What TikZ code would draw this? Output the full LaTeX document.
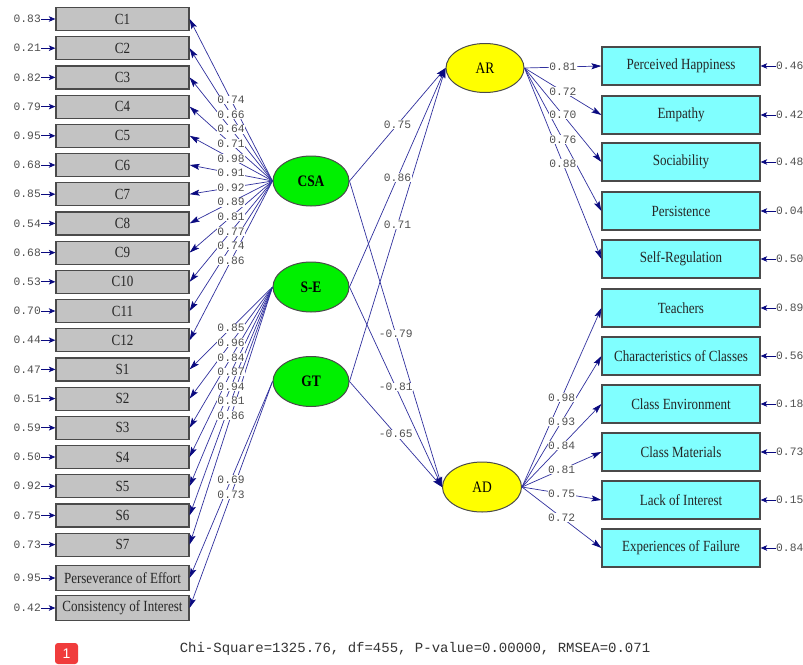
\documentclass[tikz,border=0pt]{standalone}
\usepackage{fontspec}
\setmainfont{Liberation Serif}
\newfontfamily\boxfont[FakeStretch=0.84]{Liberation Serif}
\newfontfamily\numfont{Liberation Mono}
\newfontfamily\badgefont{Liberation Sans}
\usetikzlibrary{arrows.meta,calc,shapes.geometric}
\definecolor{pathblue}{HTML}{30309E}
\definecolor{tipblue}{HTML}{0A0A80}
\definecolor{boxgray}{HTML}{C3C3C3}
\definecolor{cyanbox}{HTML}{80FFFF}
\definecolor{numgray}{HTML}{505050}
\definecolor{borderg}{HTML}{4A4A4A}
\definecolor{latgreen}{HTML}{00F000}
\definecolor{latyellow}{HTML}{FFFF00}
\definecolor{badgered}{HTML}{F03C3C}
\tikzset{
  lbox/.style={draw=borderg, line width=1.2pt, fill=boxgray, minimum width=133pt,
    minimum height=23pt, inner sep=0pt, text=black!85, font=\boxfont\fontsize{15.5}{16}\selectfont},
  rbox/.style={draw=borderg, line width=1.2pt, fill=cyanbox, minimum width=158pt,
    minimum height=38pt, inner sep=0pt, text=black!85, font=\boxfont\fontsize{15.5}{16}\selectfont},
  latg/.style={ellipse, draw=borderg, line width=1pt, fill=latgreen, minimum width=76pt,
    minimum height=50pt, inner sep=0pt, font=\boxfont\bfseries\fontsize{16}{16}\selectfont},
  laty/.style={ellipse, draw=borderg, line width=1pt, fill=latyellow, minimum width=78pt,
    minimum height=49pt, inner sep=0pt, font=\boxfont\fontsize{16}{16}\selectfont},
  pathline/.style={draw=pathblue, line width=0.7pt,
    -{Stealth[length=10pt,width=6pt,inset=2pt,color=tipblue]}},
  errarrow/.style={draw=tipblue, line width=1pt,
    -{Stealth[length=6.5pt,width=5.5pt,inset=1.5pt]}},
  lab/.style={fill=white, inner sep=0.6pt, text=numgray,
    font=\numfont\fontsize{11.3}{11.5}\selectfont},
  errlab/.style={inner sep=0pt, text=numgray, font=\numfont\fontsize{11.3}{11.5}\selectfont}
}
\begin{document}
\begin{tikzpicture}[x=1pt,y=-1pt]
\useasboundingbox[fill=white] (0,0) rectangle (803,664);

% left observed variables
\foreach \t [count=\i] in {C1,C2,C3,C4,C5,C6,C7,C8,C9,C10,C11,C12,S1,S2,S3,S4,S5,S6,S7}{
  \node[lbox] (l\i) at (122.5,{19+29.2*(\i-1)}) {\t};
}
\node[lbox, minimum height=25pt] (l20) at (122.5,578) {Perseverance of Effort};
\node[lbox, minimum height=25pt] (l21) at (122.5,608) {Consistency of Interest};

% left errors
\foreach \v [count=\i] in {0.83,0.21,0.82,0.79,0.95,0.68,0.85,0.54,0.68,0.53,0.70,0.44,0.47,0.51,0.59,0.50,0.92,0.75,0.73,0.95,0.42}{
  \node[errlab, anchor=east] (le\i) at (41,{0}|-l\i.west) {\v};
  \draw[errarrow] (le\i.east) -- (l\i.west);
}

% latent variables
\node[latg] (CSA) at (311,181) {CSA};
\node[latg] (SE) at (311,287) {S-E};
\node[latg] (GT) at (311,381.5) {GT};
\node[laty] (AR) at (485,68) {AR};
\node[laty, minimum width=79pt, minimum height=50pt] (AD) at (482,487) {AD};

% right observed variables
\foreach \t/\y [count=\i] in {Perceived Happiness/66, Empathy/115, Sociability/162, Persistence/211,
  Self-Regulation/259, Teachers/308, Characteristics of Classes/356, Class Environment/404,
  Class Materials/452, Lack of Interest/500, Experiences of Failure/548}{
  \node[rbox] (r\i) at (681,\y) {\t};
}
\foreach \v [count=\i] in {0.46,0.42,0.48,0.04,0.50,0.89,0.56,0.18,0.73,0.15,0.84}{
  \node[errlab, anchor=west] (re\i) at (776,{0}|-r\i.east) {\v};
  \draw[errarrow] (re\i.west) -- (r\i.east);
}

% loadings paths
\foreach \i in {1,...,12}{ \draw[pathline] (CSA.west) -- (l\i.east); }
\foreach \i in {13,...,19}{ \draw[pathline] (SE.west) -- (l\i.east); }
\foreach \i in {20,21}{ \draw[pathline] (GT.west) -- (l\i.east); }
\foreach \i in {1,...,5}{ \draw[pathline] (AR.east) -- (r\i.west); }
\foreach \i in {6,...,11}{ \draw[pathline] (AD.east) -- (r\i.west); }
% structural paths
\foreach \s in {CSA,SE,GT}{
  \draw[pathline] (\s.east) -- (AR.west);
  \draw[pathline] (\s.east) -- (AD.west);
}

% labels
\foreach \v [count=\i] in {0.74,0.66,0.64,0.71,0.98,0.91,0.92,0.89,0.81,0.77,0.74,0.86}{
  \node[lab] at ($(CSA.west)!0.5!(l\i.east)$) {\v};
}
\foreach \v [count=\k] in {0.85,0.96,0.84,0.87,0.94,0.81,0.86}{
  \pgfmathtruncatemacro{\i}{\k+12}
  \node[lab] at ($(SE.west)!0.5!(l\i.east)$) {\v};
}
\node[lab] at ($(GT.west)!0.5!(l20.east)$) {0.69};
\node[lab] at ($(GT.west)!0.5!(l21.east)$) {0.73};
\foreach \v [count=\i] in {0.81,0.72,0.70,0.76,0.88}{
  \node[lab] at ($(AR.east)!0.5!(r\i.west)$) {\v};
}
\foreach \v [count=\k] in {0.98,0.93,0.84,0.81,0.75,0.72}{
  \pgfmathtruncatemacro{\i}{\k+5}
  \node[lab] at ($(AD.east)!0.5!(r\i.west)$) {\v};
}
\node[lab] at ($(CSA.east)!0.5!(AR.west)$) {0.75};
\node[lab] at ($(SE.east)!0.5!(AR.west)$) {0.86};
\node[lab] at ($(GT.east)!0.5!(AR.west)$) {0.71};
\node[lab] at ($(CSA.east)!0.5!(AD.west)$) {-0.79};
\node[lab] at ($(SE.east)!0.5!(AD.west)$) {-0.81};
\node[lab] at ($(GT.east)!0.5!(AD.west)$) {-0.65};

% fit statistics
\node[text=black!80, font=\numfont\fontsize{14}{14}\selectfont] (fit) at (415,649)
  {Chi-Square=1325.76, df=455, P-value=0.00000, RMSEA=0.071};
\node[fill=badgered, rounded corners=3pt, minimum width=23pt, minimum height=21pt,
  inner sep=0pt, text=white, font=\badgefont\fontsize{14}{14}\selectfont] (badge) at (66.5,653.5) {1};
\end{tikzpicture}
\end{document}
